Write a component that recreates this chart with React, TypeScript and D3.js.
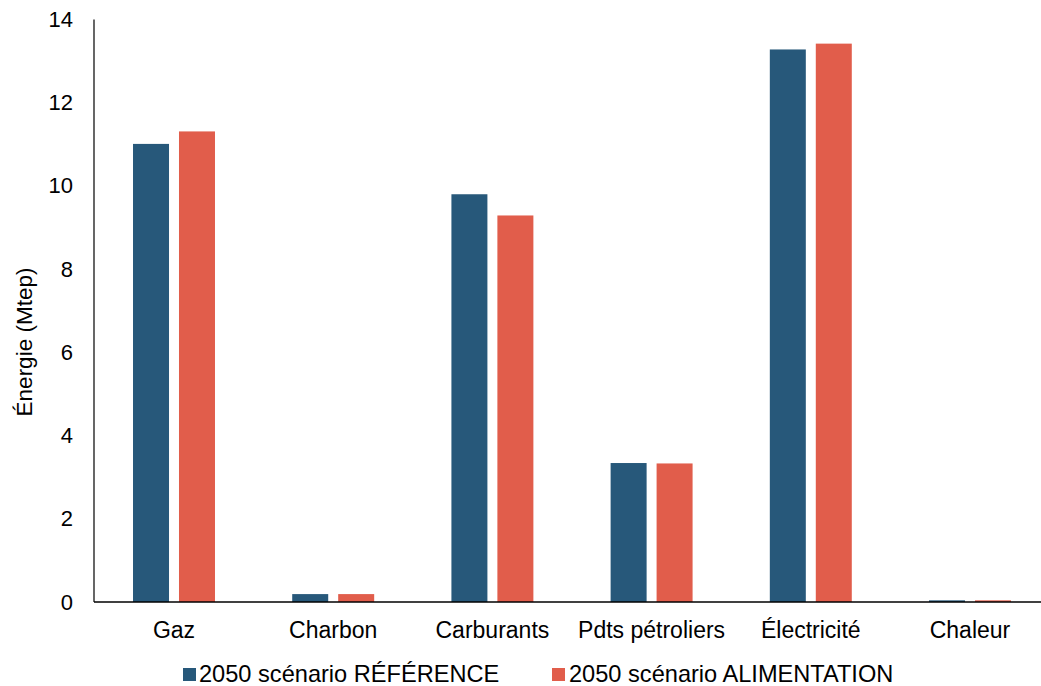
import React from "react";
import * as d3 from "d3";

const categories = ["Gaz", "Charbon", "Carburants", "Pdts pétroliers", "Électricité", "Chaleur"];
const seriesNames = ["2050 scénario RÉFÉRENCE", "2050 scénario ALIMENTATION"];
const referenceValues = [11.01, 0.19, 9.8, 3.34, 13.28, 0.04];
const alimentationValues = [11.31, 0.19, 9.29, 3.33, 13.42, 0.04];
const yTicks = [0, 2, 4, 6, 8, 10, 12, 14];
const colors = ["#27587A", "#E15D4B"];
const yTitle = "Énergie (Mtep)";

const W = 1041;
const H = 686;
const FONT = "'Liberation Sans', Arial, sans-serif";

export default function App() {
  const left = 94;
  const top = 19.5;
  const bottom = 602;
  const x0 = d3.scaleBand<string>().domain(categories).range([94.4, 1049.6]).padding(0);
  const x1 = d3
    .scaleBand<string>()
    .domain(seriesNames)
    .range([0, x0.bandwidth()])
    .paddingInner(0.217)
    .paddingOuter(0.84);
  const y = d3.scaleLinear().domain([0, 14]).range([bottom, top]);
  const seriesData = [referenceValues, alimentationValues];

  const legendItems = [
    { sx: 183, tx: 199 },
    { sx: 552, tx: 569 },
  ];

  return (
    <svg
      width={W}
      height={H}
      style={{ position: "absolute", left: 0, top: 0, background: "#fff" }}
      fontFamily={FONT}
    >
      <rect x={0} y={0} width={W} height={H} fill="#fff" />
      {seriesData.map((vals, si) =>
        categories.map((c, ci) => (
          <rect
            key={`${si}-${ci}`}
            x={(x0(c) ?? 0) + (x1(seriesNames[si]) ?? 0)}
            y={y(vals[ci])}
            width={x1.bandwidth()}
            height={bottom - y(vals[ci])}
            fill={colors[si]}
          />
        ))
      )}
      <line x1={left} x2={left} y1={top} y2={bottom} stroke="#000" strokeWidth={1.2} />
      <line x1={left} x2={W} y1={bottom} y2={bottom} stroke="#000" strokeWidth={1.5} />
      {yTicks.map((t) => (
        <text key={t} x={73} y={y(t)} textAnchor="end" dominantBaseline="central" fontSize={22} fill="#000">
          {t}
        </text>
      ))}
      {categories.map((c) => (
        <text
          key={c}
          x={(x0(c) ?? 0) + x0.bandwidth() / 2}
          y={638}
          textAnchor="middle"
          fontSize={23}
          fill="#000"
        >
          {c}
        </text>
      ))}
      <text
        transform={`translate(32,342) rotate(-90)`}
        textAnchor="middle"
        fontSize={22.5}
        fill="#000"
      >
        {yTitle}
      </text>
      {seriesNames.map((s, i) => (
        <g key={s}>
          <rect x={legendItems[i].sx} y={668} width={13} height={13} fill={colors[i]} />
          <text x={legendItems[i].tx} y={681.5} fontSize={23.6} fill="#000">
            {s}
          </text>
        </g>
      ))}
    </svg>
  );
}
